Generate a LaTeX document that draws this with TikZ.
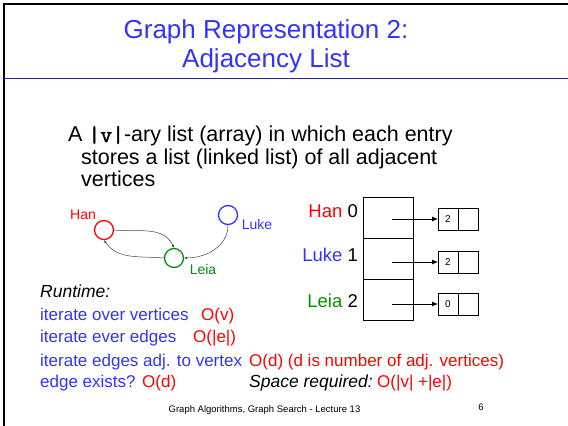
\documentclass[tikz,border=0pt]{standalone}
\usepackage{fontspec}
\setmainfont{Liberation Sans}
\newfontfamily\vmono{Latin Modern Mono}[AutoFakeBold=2]
\usetikzlibrary{arrows.meta,positioning}
\definecolor{slideblue}{RGB}{51,51,255}
\definecolor{slidered}{RGB}{255,0,0}
\definecolor{slidegreen}{RGB}{0,145,0}
\definecolor{ruleblue}{RGB}{35,45,135}
\begin{document}
\begin{tikzpicture}[x=1pt, y=1pt,
    body/.style={anchor=base west, inner sep=0pt, font=\fontsize{17}{20}\selectfont},
    intro/.style={anchor=base west, inner sep=0pt, font=\fontsize{21.5}{24}\selectfont},
    slant/.style={font=\fontsize{17.5}{20}\selectfont\itshape},
    vertex/.style={circle, draw, line width=1.3pt, minimum size=19pt, inner sep=0pt},
    vname/.style={inner sep=0pt, font=\fontsize{14}{16}\selectfont},
    cell/.style={draw, line width=0.8pt, minimum width=50pt, minimum height=41pt, inner sep=0pt, outer sep=0pt},
    lbox/.style={draw, line width=0.8pt, minimum width=20pt, minimum height=22pt, inner sep=0pt, outer sep=0pt, font=\fontsize{10}{12}\selectfont},
    ptr/.style={line width=0.8pt, shorten <=4pt, -{Latex[length=6pt,width=5pt]}},
    gedge/.style={black!75, line width=0.5pt, -{Latex[length=3pt,width=2.5pt]}}]

  \useasboundingbox (0,0) rectangle (568,426);
  \draw[line width=2.5pt] (4,0) -- (4,422) -- (568,422);
  \draw[ruleblue, line width=1pt] (4,347) -- (568,347);

  \node[slideblue, anchor=base, font=\fontsize{26}{29}\selectfont] (title1) at (266,387) {Graph Representation 2:};
  \node[slideblue, anchor=base, font=\fontsize{26}{29}\selectfont] (title2) at (266,358) {Adjacency List};

  \node[intro] (intro1) at (68,284) {A {\vmono\fontsize{23}{24}\selectfont\bfseries|v|}-ary list (array) in which each entry};
  \node[intro] (intro2) at (81,261) {stores a list (linked list) of all adjacent};
  \node[intro] (intro3) at (81,239) {vertices};

  \node[vertex, slidered]   (han)  at (104,196) {};
  \node[vertex, slideblue]  (luke) at (228,211) {};
  \node[vertex, slidegreen] (leia) at (174,168) {};
  \node[vname, slidered]   (hanname)  at (83,211)  {Han};
  \node[vname, slideblue]  (lukename) at (257,202) {Luke};
  \node[vname, slidegreen] (leianame) at (203,157) {Leia};

  \draw[gedge] (han.east) to[out=-5,in=115] (leia.north);
  \draw[gedge] (leia.west) to[out=175,in=-55] (han.south);
  \draw[gedge] (luke.south) to[out=-90,in=0] (leia.east);

  \node[cell] (a0) at (388,208.5) {};
  \node[cell, below=0pt of a0] (a1) {};
  \node[cell, below=0pt of a1] (a2) {};

  \node[anchor=base east, inner sep=0pt, font=\fontsize{18.5}{21}\selectfont] (idx0) at (358,208) {\textcolor{slidered}{Han} 0};
  \node[anchor=base east, inner sep=0pt, font=\fontsize{18.5}{21}\selectfont] (idx1) at (358,164) {\textcolor{slideblue}{Luke} 1};
  \node[anchor=base east, inner sep=0pt, font=\fontsize{18.5}{21}\selectfont] (idx2) at (358,118) {\textcolor{slidegreen}{Leia} 2};

  \node[lbox] (l0) at (448,207) {2};
  \node[lbox, right=0pt of l0] (l0n) {};
  \node[lbox] (l1) at (448,164) {2};
  \node[lbox, right=0pt of l1] (l1n) {};
  \node[lbox] (l2) at (448,122) {0};
  \node[lbox, right=0pt of l2] (l2n) {};

  \draw[ptr] (a0.center |- l0.west) -- (l0.west);
  \draw[ptr] (a1.center |- l1.west) -- (l1.west);
  \draw[ptr] (a2.center |- l2.west) -- (l2.west);

  \node[body, slant] (runtime) at (40,128) {Runtime:};
  \node[body, slideblue] (iter1) at (40,105) {iterate over vertices};
  \node[body, slidered]  (cost1) at (201,105) {O(v)};
  \node[body, slideblue] (iter2) at (40,83) {iterate ever edges};
  \node[body, slidered]  (cost2) at (193,83) {O(|e|)};
  \node[body, slideblue] (iter3) at (40,59) {iterate edges adj. to vertex};
  \node[body, slidered]  (cost3) at (249,59) {O(d) (d is number of adj. vertices)};
  \node[body, slideblue] (iter4) at (40,38) {edge exists?};
  \node[body, slidered]  (cost4) at (142,38) {O(d)};
  \node[body, slant]     (space) at (249,38) {Space required:};
  \node[body, slidered]  (cost5) at (377,38) {O(|v| +|e|)};

  \node[anchor=base, inner sep=0pt, font=\fontsize{9.5}{11}\selectfont] (footer) at (264.5,13) {Graph Algorithms, Graph Search - Lecture 13};
  \node[anchor=base, inner sep=0pt, font=\fontsize{9.5}{11}\selectfont] (pageno) at (481,16) {6};
\end{tikzpicture}
\end{document}
